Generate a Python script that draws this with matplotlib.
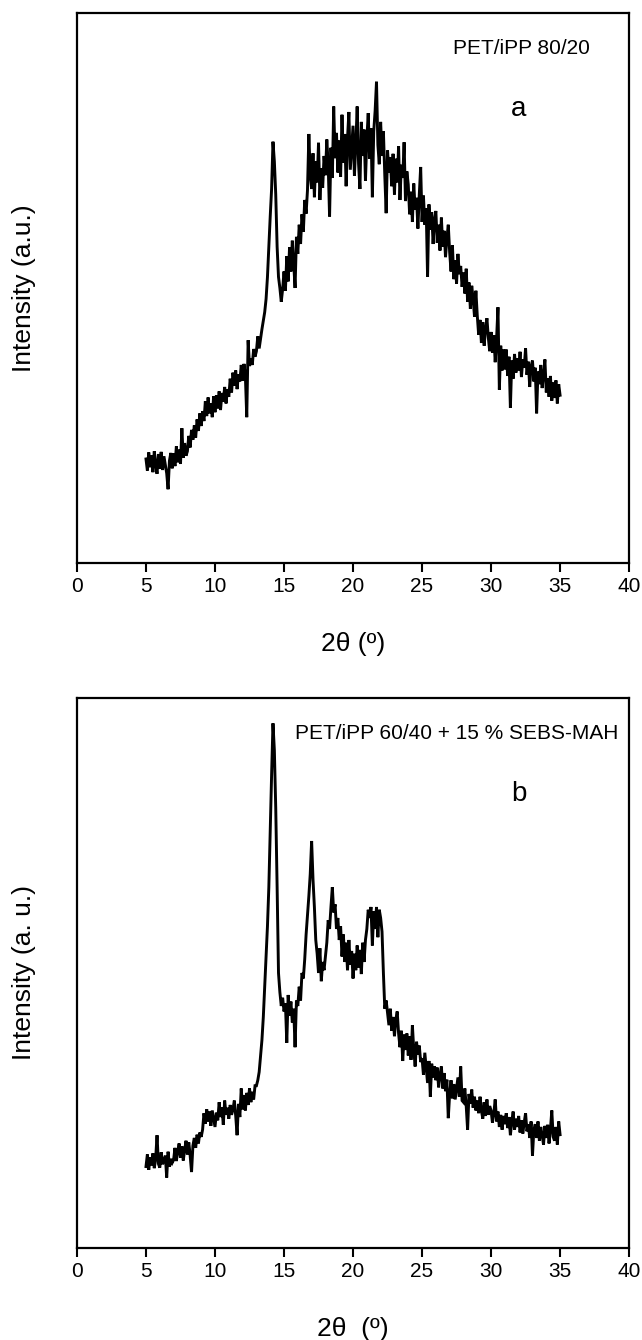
"""XRD patterns: PET/iPP 80/20 (a) and PET/iPP 60/40 + 15 % SEBS-MAH (b)
Run: python plot.py
"""
import numpy as np
import matplotlib.pyplot as plt

plt.rcParams['font.family'] = ['Liberation Sans', 'DejaVu Sans']

# 2theta grid, 5 to 35 deg in 0.1 deg steps
two_theta = np.round(np.arange(50, 351) * 0.1, 1)

# intensity (a.u.), one row per degree
intensity_a = [
    18.9, 16.8, 20.1, 17.4, 19.6, 16.5, 20.3, 17.9, 16.2, 19.8,   # 5
    17.1, 20.2, 16.9, 19.4, 17.8, 16.3, 13.4, 18.6, 20.0, 17.2,   # 6
    19.9, 17.6, 21.2, 18.3, 20.6, 18.0, 24.5, 19.1, 21.8, 19.5,   # 7
    20.3, 23.1, 21.0, 24.2, 22.4, 25.0, 22.8, 26.1, 24.0, 27.2,   # 8
    24.9, 27.6, 25.8, 29.4, 26.7, 30.1, 27.2, 29.0, 26.5, 30.3,   # 9
    27.4, 30.5, 28.1, 31.2, 27.8, 30.9, 29.3, 32.0, 29.0, 31.6,   # 10
    30.2, 33.5, 31.0, 34.6, 32.2, 35.0, 31.6, 34.3, 33.0, 36.0,   # 11
    33.1, 36.2, 34.0, 26.5, 40.5, 35.8, 37.2, 36.0, 38.9, 37.5,   # 12
    38.5, 41.2, 39.0, 40.8, 42.5, 44.0, 45.6, 48.0, 52.0, 57.5,   # 13
    63.0, 68.0, 76.6, 73.0, 67.0, 57.5, 52.0, 50.0, 47.5, 49.8,   # 14
    53.0, 49.5, 55.8, 51.2, 57.4, 53.0, 58.6, 54.5, 50.0, 59.3,   # 15
    56.2, 61.5, 58.0, 63.4, 60.2, 66.0, 63.5, 67.8, 78.0, 70.4,   # 16
    68.0, 74.5, 66.5, 73.0, 69.2, 76.4, 66.0, 71.8, 68.2, 74.0,   # 17
    70.5, 77.0, 72.4, 63.0, 75.5, 70.0, 83.0, 73.6, 78.2, 71.0,   # 18
    76.8, 70.2, 81.5, 72.8, 78.0, 68.5, 77.2, 82.0, 71.5, 75.6,   # 19
    79.5, 70.4, 76.0, 83.0, 72.6, 68.0, 80.2, 74.0, 78.8, 69.5,   # 20
    77.0, 81.8, 73.5, 79.0, 66.5, 78.5, 82.2, 87.5, 76.0, 72.5,   # 21
    80.2, 74.0, 78.5, 70.5, 63.6, 75.0, 71.0, 73.8, 68.5, 74.4,   # 22
    67.0, 73.5, 69.2, 75.8, 66.0, 72.4, 70.0, 76.5, 65.8, 71.2,   # 23
    68.8, 63.4, 67.5, 62.0, 69.0, 64.2, 66.4, 60.8, 67.0, 72.0,   # 24
    62.0, 66.8, 61.5, 64.5, 52.0, 65.2, 60.6, 63.8, 58.0, 62.4,   # 25
    64.0, 58.2, 61.5, 56.8, 62.8, 57.5, 60.4, 55.6, 59.0, 61.5,   # 26
    56.5, 53.0, 57.8, 51.6, 55.0, 50.8, 56.2, 52.5, 54.0, 50.2,   # 27
    52.8, 49.0, 53.5, 47.5, 51.0, 46.2, 50.4, 48.0, 44.8, 49.5,   # 28
    45.0, 41.5, 44.2, 40.0, 43.8, 39.5, 42.6, 44.5, 41.0, 38.5,   # 29
    42.0, 38.2, 41.4, 36.5, 40.8, 46.5, 31.5, 39.5, 35.0, 38.8,   # 30
    35.2, 38.8, 34.0, 37.5, 28.2, 36.8, 33.5, 38.0, 34.6, 37.2,   # 31
    35.0, 38.4, 33.8, 37.0, 35.5, 39.0, 34.2, 36.6, 32.0, 35.8,   # 32
    36.8, 33.0, 35.5, 27.2, 34.8, 32.5, 36.0, 31.8, 34.2, 37.0,   # 33
    31.0, 33.6, 30.2, 34.0, 29.5, 32.8, 30.0, 33.2, 29.0, 32.5,   # 34
    30.5,
]

intensity_b = [
    14.8, 17.0, 14.2, 16.5, 15.0, 17.2, 14.5, 16.2, 20.5, 15.3,   # 5
    14.6, 17.4, 15.2, 16.0, 16.8, 12.8, 17.5, 14.8, 16.2, 15.5,   # 6
    16.0, 18.2, 15.8, 17.6, 19.0, 16.4, 18.5, 15.9, 17.8, 19.5,   # 7
    17.0, 19.2, 16.8, 13.8, 18.6, 20.0, 18.2, 20.6, 19.0, 21.0,   # 8
    20.2, 21.5, 24.5, 22.6, 25.2, 23.0, 24.8, 22.2, 25.0, 23.5,   # 9
    22.0, 24.6, 23.2, 26.5, 23.8, 25.6, 22.4, 26.8, 24.2, 25.5,   # 10
    23.5, 26.0, 24.2, 25.2, 26.8, 24.0, 20.5, 26.2, 23.8, 29.0,   # 11
    25.2, 27.8, 25.0, 28.2, 26.0, 29.0, 26.5, 28.4, 27.0, 29.5,   # 12
    29.5, 30.5, 32.0, 35.0, 37.8, 42.0, 47.5, 53.0, 58.5, 65.6,   # 13
    76.0, 86.0, 95.4, 90.5, 80.0, 65.6, 50.0, 46.5, 44.0, 45.5,   # 14
    43.0, 44.5, 37.3, 46.0, 42.2, 44.8, 41.0, 43.5, 36.5, 45.0,   # 15
    44.0, 47.5, 45.0, 50.0, 49.0, 52.5, 57.0, 60.5, 64.0, 68.0,   # 16
    74.0, 67.0, 62.0, 56.0, 53.5, 50.0, 54.5, 48.5, 52.0, 50.5,   # 17
    53.0, 55.5, 59.6, 58.0, 62.0, 65.6, 61.0, 62.5, 58.0, 60.0,   # 18
    56.0, 58.5, 53.0, 57.0, 52.0, 55.5, 50.5, 56.0, 51.5, 54.0,   # 19
    49.0, 53.5, 50.5, 55.0, 51.0, 54.2, 49.8, 55.5, 52.0, 56.0,   # 20
    58.0, 61.5, 60.0, 62.0, 55.0, 61.2, 58.0, 62.0, 56.5, 61.5,   # 21
    60.0, 57.5, 50.0, 43.5, 45.0, 42.7, 40.5, 43.5, 39.5, 42.0,   # 22
    38.5, 41.5, 43.0, 39.0, 36.5, 39.5, 34.0, 38.8, 36.0, 39.0,   # 23
    35.0, 38.5, 34.2, 40.5, 36.0, 33.0, 37.5, 35.2, 36.8, 33.8,   # 24
    34.5, 31.5, 35.5, 32.8, 30.0, 34.0, 27.5, 33.5, 31.0, 33.0,   # 25
    30.5, 32.8, 29.2, 31.5, 33.0, 29.0, 31.8, 28.5, 30.6, 23.6,   # 26
    28.0, 30.5, 27.2, 29.8, 27.0, 29.0, 31.0, 27.5, 33.0, 26.8,   # 27
    26.5, 29.0, 25.8, 21.5, 28.0, 26.2, 28.8, 25.5, 27.5, 25.0,   # 28
    26.8, 24.5, 27.5, 25.0, 23.5, 26.5, 24.0, 27.0, 24.2, 25.8,   # 29
    25.0, 22.8, 24.5, 27.0, 23.0, 24.8, 22.0, 24.2, 21.5, 24.0,   # 30
    22.5, 24.5, 21.8, 23.8, 20.5, 23.0, 24.8, 21.5, 23.5, 22.0,   # 31
    24.0, 21.0, 23.2, 20.8, 22.8, 24.5, 21.2, 22.5, 20.0, 23.0,   # 32
    16.8, 21.5, 22.5, 20.0, 23.0, 19.5, 22.0, 20.5, 18.8, 22.2,   # 33
    20.0, 22.4, 19.0, 21.5, 25.0, 20.2, 19.5, 22.0, 18.8, 23.0,   # 34
    20.6,
]

x_ticks = [0, 5, 10, 15, 20, 25, 30, 35, 40]

panels = [
    ("PET/iPP 80/20", "a", "Intensity (a.u.)", "2θ (º)", intensity_a, 32.2),
    ("PET/iPP 60/40 + 15 % SEBS-MAH", "b", "Intensity (a. u.)", "2θ  (º)", intensity_b, 27.5),
]

fig = plt.figure(figsize=(6.42, 13.40), dpi=100)
ax_a = fig.add_axes([0.1199, 0.5799, 0.860, 0.4104])
ax_b = fig.add_axes([0.1199, 0.0687, 0.860, 0.4104])

for ax, (title, letter, ylab, xlab, y, tx) in zip([ax_a, ax_b], panels):
    ax.plot(two_theta, y, color='black', lw=2.1, solid_joinstyle='miter')
    ax.set_xlim(0, 40)
    ax.set_ylim(0, 100)
    ax.set_xticks(x_ticks)
    ax.set_yticks([])
    ax.tick_params(axis='x', direction='out', length=6.5, width=1.5,
                   labelsize=15, pad=3.5)
    for s in ax.spines.values():
        s.set_linewidth(1.6)
    ax.set_ylabel(ylab, fontsize=19)
    ax.yaxis.set_label_coords(-0.075, 0.5)
    ax.set_xlabel(xlab, fontsize=19)
    ax.xaxis.set_label_coords(0.5, -0.125)
    ax.text(tx, 93.5, title, fontsize=15, ha='center', va='center')
    ax.text(32.0, 82.5, letter, fontsize=20, ha='center', va='center')

fig.savefig("out.png", dpi=100)
plt.close(fig)
